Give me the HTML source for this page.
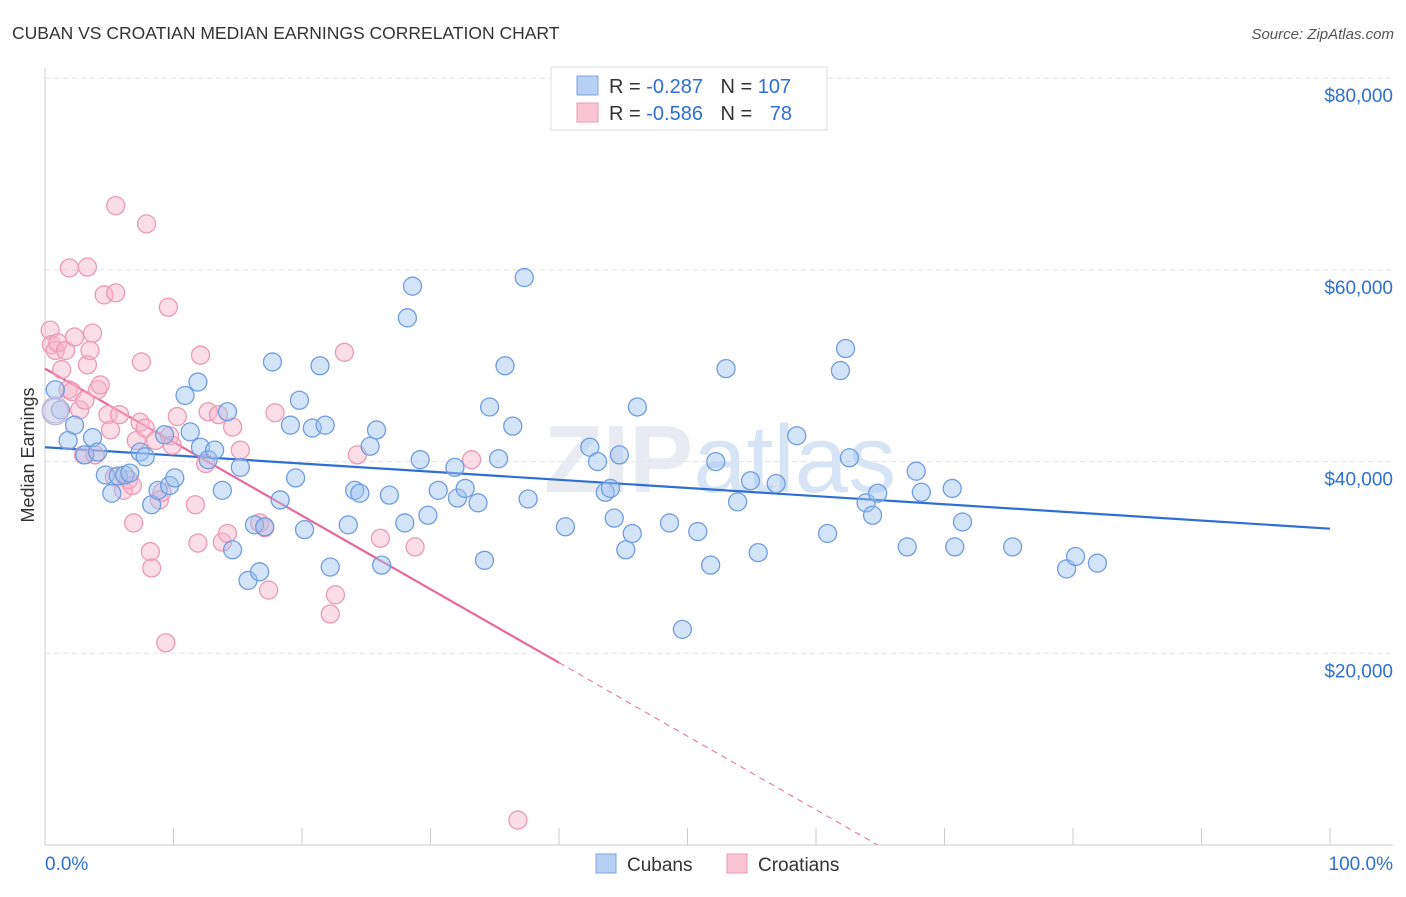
<!DOCTYPE html>
<html><head><meta charset="utf-8"><style>
body{margin:0;background:#fff;font-family:"Liberation Sans",sans-serif;}
</style></head><body>
<svg id="chart" width="1406" height="892" xmlns="http://www.w3.org/2000/svg" font-family="Liberation Sans, sans-serif">
<text x="12" y="39" font-size="17.5" fill="#333">CUBAN VS CROATIAN MEDIAN EARNINGS CORRELATION CHART</text>
<text x="1394" y="39" font-size="15" fill="#555" font-style="italic" text-anchor="end">Source: ZipAtlas.com</text>
<text x="720" y="492" font-size="96" fill="#e8ecf2" text-anchor="middle" font-weight="bold">ZIP<tspan fill="#d6e4f5" font-weight="normal">atlas</tspan></text>
<g id="grid"></g><g id="axes"></g><g id="trend"></g><g id="pts"></g>
<text transform="translate(34,455) rotate(-90)" font-size="18" fill="#333" text-anchor="middle">Median Earnings</text>
<g>
<rect x="551" y="67" width="276" height="63" fill="#fff" stroke="#ddd"/>
<rect x="577" y="76" width="21" height="19" fill="#b7d0f3" stroke="#7ea6e0"/>
<rect x="577" y="103" width="21" height="19" fill="#f9c5d5" stroke="#eb9ab4"/>
<text x="609" y="93" font-size="20" fill="#333">R = <tspan fill="#2e6fd3">-0.287</tspan>  <tspan dx="12">N = </tspan><tspan fill="#2e6fd3">107</tspan></text>
<text x="609" y="120" font-size="20" fill="#333">R = <tspan fill="#2e6fd3">-0.586</tspan>  <tspan dx="12">N = </tspan><tspan fill="#2e6fd3" dx="12">78</tspan></text>
</g>
<g>
<rect x="596" y="854" width="20" height="19" fill="#b7d0f3" stroke="#7ea6e0"/>
<text x="627" y="871" font-size="19" fill="#333">Cubans</text>
<rect x="727" y="854" width="20" height="19" fill="#f9c5d5" stroke="#eb9ab4"/>
<text x="758" y="871" font-size="19" fill="#333">Croatians</text>
</g>
</svg>
<script>
const yTicks=[20,40,60,80];
const yTickLabels=["$20,000","$40,000","$60,000","$80,000"];
const xTickLabels=["0.0%","100.0%"];
const cubanX=[0.8,1.2,1.8,2.3,3.1,3.7,4.1,4.7,5.2,5.7,6.2,6.6,7.4,7.8,8.3,8.8,9.3,9.7,10.1,10.9,11.3,11.9,12.1,12.7,13.2,13.8,14.2,14.6,15.2,15.8,16.3,16.7,17.1,17.7,18.3,19.1,19.5,19.8,20.2,20.8,21.4,21.8,22.2,23.6,24.1,24.5,25.3,25.8,26.2,26.8,28.0,28.2,28.6,29.2,29.8,30.6,31.9,32.1,32.7,33.7,34.2,34.6,35.3,35.8,36.4,37.3,37.6,40.5,42.4,43.0,43.6,44.0,44.3,44.7,45.2,45.7,46.1,48.6,49.6,50.8,51.8,52.2,53.0,53.9,54.9,55.5,56.9,58.5,60.9,61.9,62.3,62.6,63.9,64.4,64.8,67.1,67.8,68.2,70.6,70.8,71.4,75.3,79.5,80.2,81.9];
const cubanY=[47.5,45.4,42.2,43.8,40.7,42.5,41.0,38.6,36.7,38.5,38.6,38.8,41.0,40.5,35.5,37.0,42.8,37.5,38.3,46.9,43.1,48.3,41.5,40.2,41.2,37.0,45.2,30.8,39.4,27.6,33.4,28.5,33.2,50.4,36.0,43.8,38.3,46.4,32.9,43.5,50.0,43.8,29.0,33.4,37.0,36.7,41.6,43.3,29.2,36.5,33.6,55.0,58.3,40.2,34.4,37.0,39.4,36.2,37.2,35.7,29.7,45.7,40.3,50.0,43.7,59.2,36.1,33.2,41.5,40.0,36.8,37.2,34.1,40.7,30.8,32.5,45.7,33.6,22.5,32.7,29.2,40.0,49.7,35.8,38.0,30.5,37.7,42.7,32.5,49.5,51.8,40.4,35.7,34.4,36.7,31.1,39.0,36.8,37.2,31.1,33.7,31.1,28.8,30.1,29.4];
const croatX=[0.4,0.5,0.8,1.0,1.3,1.6,1.8,2.1,2.3,2.7,3.0,3.1,3.3,3.5,3.7,3.9,4.1,4.3,4.6,4.9,5.1,5.4,5.5,5.8,6.1,6.5,6.8,6.9,7.1,7.4,7.5,7.8,7.9,8.2,8.3,8.6,8.9,9.1,9.4,9.6,9.7,9.9,10.3,11.7,11.9,12.1,12.5,12.7,13.5,13.8,14.2,14.6,15.2,16.7,17.1,17.4,17.9,22.2,22.6,23.3,24.3,26.1,28.8,33.2,36.8,1.9,3.3,5.5];
const croatY=[53.7,52.2,51.6,52.4,49.6,51.6,47.5,47.3,53.0,45.4,40.7,46.4,50.1,51.6,53.4,40.7,47.5,48.0,57.4,44.9,43.3,38.4,57.6,44.9,37.0,38.1,37.5,33.6,42.2,44.1,50.4,43.5,64.8,30.6,28.9,42.2,36.0,36.8,21.1,56.1,42.7,41.7,44.7,35.5,31.5,51.1,39.8,45.2,44.9,31.6,32.5,43.6,41.2,33.6,33.1,26.6,45.1,24.1,26.1,51.4,40.7,32.0,31.1,40.2,2.6,60.2,60.3,66.7];
const bigX=[0.8,0.8], bigY=[45.4,45.2];
const cubanTrend=[41.5,33.0];   // y at 0% and 100%
const croatTrend=[49.7,-27.0];  // y at 0% and 100%
const croatSolidEnd=40;

const NS="http://www.w3.org/2000/svg";
const X=v=>45+v*12.85, Y=v=>845-v*9.585;
function mk(tag,attrs,parent){const e=document.createElementNS(NS,tag);for(const k in attrs)e.setAttribute(k,attrs[k]);document.getElementById(parent).appendChild(e);return e;}
yTicks.forEach((t,i)=>{
 const l=mk('line',{x1:45,x2:1393,y1:Y(t),y2:Y(t),stroke:'#e2e2e2','stroke-dasharray':'5,4'},'grid');
 
 
 const tx=mk('text',{x:1393,y:Y(t)+24,'text-anchor':'end','font-size':19,fill:'#2e6fd3'},'grid');
 tx.textContent=yTickLabels[i];
 
 
});
const ax=mk('line',{x1:45,x2:1393,y1:845,y2:845,stroke:'#ccc'},'axes');


const ay=mk('line',{x1:45,x2:45,y1:68,y2:845,stroke:'#ccc'},'axes');


for(let i=0;i<=10;i++){
 const t=mk('line',{x1:X(i*10),x2:X(i*10),y1:828,y2:845,stroke:'#ccc'},'axes');
 
 
}
const xl0=mk('text',{x:45,y:870,'font-size':19,fill:'#2e6fd3'},'axes');
xl0.textContent=xTickLabels[0];


const xl1=mk('text',{x:1393,y:870,'font-size':19,fill:'#2e6fd3','text-anchor':'end'},'axes');
xl1.textContent=xTickLabels[1];



function pts(xs,ys,fill,stroke,name,r){xs.forEach((x,i)=>{
 const c=mk('circle',{cx:X(x),cy:Y(ys[i]),r:r,fill:fill,stroke:stroke,'stroke-width':1.3},'pts');
 
 
});}
pts(croatX,croatY,'rgba(247,180,202,0.45)','#eb9ab4','croatian-point',9);
pts(cubanX,cubanY,'rgba(160,195,240,0.45)','#6f9de0','cuban-point',9);
pts(bigX,bigY,'rgba(200,200,230,0.35)','#c0b8dc','large-point',13);

const ct=(p,tr)=>tr[0]+(tr[1]-tr[0])*p/100;
const bl=mk('line',{x1:X(0),y1:Y(ct(0,cubanTrend)),x2:X(100),y2:Y(ct(100,cubanTrend)),stroke:'#2e6fd3','stroke-width':2.2},'trend');


const pl=mk('line',{x1:X(0),y1:Y(ct(0,croatTrend)),x2:X(croatSolidEnd),y2:Y(ct(croatSolidEnd,croatTrend)),stroke:'#e8689a','stroke-width':2.2},'trend');


const zeroP=-croatTrend[0]/(croatTrend[1]-croatTrend[0])*100;
const pd=mk('line',{x1:X(croatSolidEnd),y1:Y(ct(croatSolidEnd,croatTrend)),x2:X(zeroP),y2:Y(0),stroke:'#e8689a','stroke-width':1,'stroke-dasharray':'6,5'},'trend');


</script>
</body></html>
